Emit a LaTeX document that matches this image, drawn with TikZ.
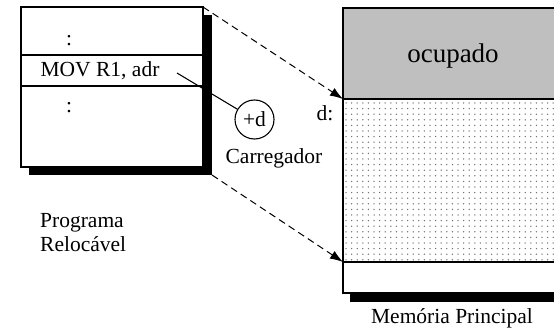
\documentclass[tikz,border=0pt]{standalone}
\usepackage{fontspec}
\setmainfont{Liberation Serif}
\usetikzlibrary{arrows.meta}
\begin{document}
\begin{tikzpicture}[x=1pt,y=-1pt,
  txt/.style={inner sep=0pt,font=\fontsize{21.5}{24}\selectfont},
  bigtxt/.style={inner sep=0pt,font=\fontsize{27}{30}\selectfont},
  box/.style={draw=black,line width=1.1pt},
  shadow/.style={fill=black},
  dasharrow/.style={dashed,dash pattern=on 7pt off 4.5pt,line width=1pt,-{Latex[length=13pt,width=9pt]}}
]
\useasboundingbox (0,0) rectangle (554,331);
% left box
\fill[shadow] (29,15) rectangle (212,175);
\filldraw[box,fill=white] (21,7) rectangle (203,167);
\draw[box] (21,55) -- (203,55);
\draw[box] (21,86) -- (203,86);
\node[txt] (dots1) at (69,41) {:};
\node[txt] (mov) at (100,71) {MOV R1, adr};
\node[txt] (dots2) at (69,108) {:};
\coordinate (ltop) at (203,7);
\coordinate (lbot) at (212,175);
% circle
\node[draw,circle,line width=1.1pt,minimum size=39pt,inner sep=0pt,font=\fontsize{21.5}{24}\selectfont] (add) at (254.5,119.5) {+d};
\node[txt] (carr) at (274,158) {Carregador};
\draw[line width=1.1pt] (177,73) -- (add);
% right box
\fill[shadow] (350,293) rectangle (570,302);
\fill[gray!50] (343,8) rectangle (570,99);
\begin{scope}
\clip (344,100) rectangle (570,261.5);
\foreach \i in {0,...,40}{
  \foreach \j in {0,...,29}{
    \fill[black!55] ({346+\i*5.6},{103+\j*5.6}) circle (0.75pt);
  }
}
\end{scope}
\draw[box] (570,8) -- (343,8) -- (343,293) -- (570,293);
\draw[box] (343,99) -- (570,99);
\draw[box] (343,262) -- (570,262);
\coordinate (rtop) at (343,99);
\coordinate (rbot) at (343,262);
\node[bigtxt] (ocup) at (453,56) {ocupado};
\node[txt] (d) at (325,113) {d:};
\node[txt] (mem) at (452,318) {Memória Principal};
\node[txt,align=left,anchor=west] (prog) at (40,233) {Programa\\Relocável};
% dashed arrows
\draw[dasharrow] (ltop) -- (rtop);
\draw[dasharrow] (lbot) -- (rbot);
\end{tikzpicture}
\end{document}
